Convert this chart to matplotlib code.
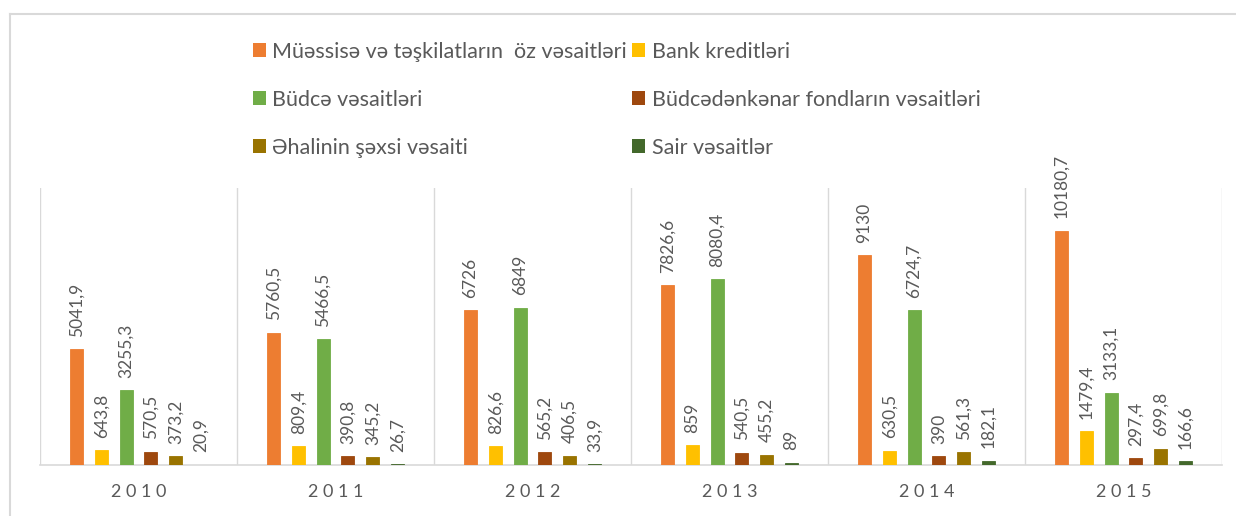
import matplotlib
matplotlib.use("Agg")
import matplotlib.pyplot as plt
from matplotlib.patches import Patch
from matplotlib.lines import Line2D
import numpy as np

years = ["2010", "2011", "2012", "2013", "2014", "2015"]
series_names = [
    "Müəssisə və təşkilatların  öz vəsaitləri",
    "Bank kreditləri",
    "Büdcə vəsaitləri",
    "Büdcədənkənar fondların vəsaitləri",
    "Əhalinin şəxsi vəsaiti",
    "Sair vəsaitlər",
]
muessise = [5041.9, 5760.5, 6726, 7826.6, 9130, 10180.7]
bank = [643.8, 809.4, 826.6, 859, 630.5, 1479.4]
budce = [3255.3, 5466.5, 6849, 8080.4, 6724.7, 3133.1]
budcedenkenar = [570.5, 390.8, 565.2, 540.5, 390, 297.4]
ehali = [373.2, 345.2, 406.5, 455.2, 561.3, 699.8]
sair = [20.9, 26.7, 33.9, 89, 182.1, 166.6]
labels = [
    ["5041,9", "5760,5", "6726", "7826,6", "9130", "10180,7"],
    ["643,8", "809,4", "826,6", "859", "630,5", "1479,4"],
    ["3255,3", "5466,5", "6849", "8080,4", "6724,7", "3133,1"],
    ["570,5", "390,8", "565,2", "540,5", "390", "297,4"],
    ["373,2", "345,2", "406,5", "455,2", "561,3", "699,8"],
    ["20,9", "26,7", "33,9", "89", "182,1", "166,6"],
]
colors = ["#ED7D31", "#FFC000", "#70AD47", "#9E480E", "#997300", "#43682B"]
data = [muessise, bank, budce, budcedenkenar, ehali, sair]

FONT = ["Lato", "DejaVu Sans"]
plt.rcParams['font.family'] = FONT
TXT = "#595959"

fig = plt.figure(figsize=(12.36, 5.16), dpi=100)
ax = fig.add_axes([0.0324, 0.0988, 0.9563, 0.5369])

x = np.arange(len(years))
slot = 0.126
bw = 0.066
for i, (vals, c) in enumerate(zip(data, colors)):
    off = (i - 2.5) * slot
    ax.bar(x + off, vals, width=bw, color=c, edgecolor=c, linewidth=0.6, zorder=3)
    for xi, v, lab in zip(x + off, vals, labels[i]):
        ax.annotate(lab, (xi, v), xytext=(0, 9), textcoords="offset points",
                    rotation=90, ha="center", va="bottom", color=TXT,
                    fontsize=12.5, annotation_clip=False)

ax.set_xlim(-0.5, len(years) - 0.5)
ax.set_ylim(0, 12050)
ax.set_yticks([])
ax.set_xticks(x)
ax.set_xticklabels([" ".join(y) for y in years], fontsize=13, color=TXT)
ax.tick_params(axis="x", length=0, pad=14)
for b in np.arange(-0.5, len(years), 1.0):
    ax.axvline(b, color="#D9D9D9", linewidth=1.0, zorder=1)
for s in ["top", "left", "right"]:
    ax.spines[s].set_visible(False)
ax.spines["bottom"].set_color("#D9D9D9")
ax.spines["bottom"].set_linewidth(1.2)

# legend (row-major order for 2 columns)
handles = [Patch(facecolor=c, edgecolor="none") for c in colors]
order = [0, 2, 4, 1, 3, 5]
leg = fig.legend([handles[i] for i in order], [series_names[i] for i in order],
                 ncol=2, loc="upper left", bbox_to_anchor=(0.189, 0.957),
                 frameon=False, fontsize=15.5, labelcolor=TXT,
                 handlelength=0.6, handleheight=0.6, handletextpad=0.3,
                 columnspacing=0.25, labelspacing=1.3)

# outer border (top and left)
fig.add_artist(Line2D([10/1236, 1.0], [1-14/516, 1-14/516], transform=fig.transFigure,
                      color="#D9D9D9", linewidth=1.5))
fig.add_artist(Line2D([10/1236, 10/1236], [0, 1-14/516], transform=fig.transFigure,
                      color="#D9D9D9", linewidth=1.5))

fig.savefig("out.png", dpi=100, facecolor="white")
